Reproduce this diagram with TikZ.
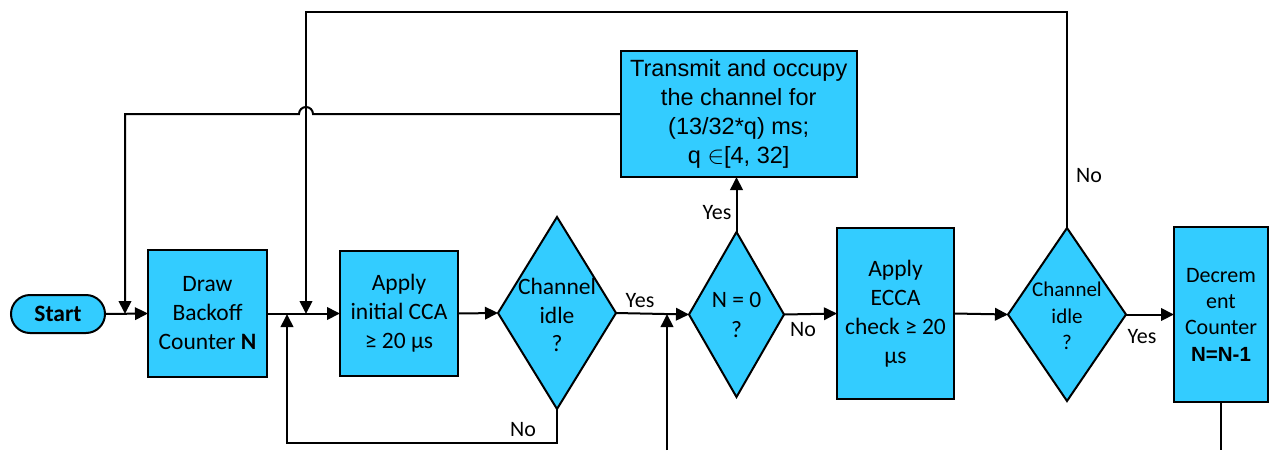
\documentclass[tikz,border=0pt]{standalone}
\usepackage{fontspec}
\setmainfont{Carlito}
\newfontfamily\arialf{Liberation Sans}
\usetikzlibrary{shapes.geometric,arrows.meta}
\definecolor{boxc}{HTML}{33CCFF}
\begin{document}
\begin{tikzpicture}[x=1pt,y=-1pt,
  line width=2pt,
  arr/.style={-{Triangle[length=13pt,width=12.5pt]}},
  blk/.style={draw, fill=boxc, inner sep=0pt, outer sep=0pt, align=center, font=\fontsize{23.5}{29}\selectfont},
  dia/.style={draw, fill=boxc, diamond, inner sep=0pt, outer sep=0pt},
  txt/.style={align=center, inner sep=0pt, font=\fontsize{23.5}{28.5}\selectfont},
  lbl/.style={inner sep=0pt, font=\fontsize{22}{24}\selectfont}]
\useasboundingbox (0,0) rectangle (1269,450);

% nodes
\node[blk, rounded corners=19pt, minimum width=94pt, minimum height=38pt, font=\bfseries\fontsize{23.5}{28}\selectfont] (start) at (58,314) {Start};
\node[blk, minimum width=119pt, minimum height=127pt] (draw) at (207.5,313.5) {Draw\\Backoff\\Counter \textbf{N}};
\node[blk, minimum width=118pt, minimum height=125pt] (cca) at (399,313.5) {Apply\\initial CCA\\≥ 20 µs};
\node[dia, minimum width=118pt, minimum height=192pt] (d1) at (557,313) {};
\node[txt] (d1t) at (557,315) {Channel\\idle\\?};
\node[dia, minimum width=95pt, minimum height=165pt] (n0) at (736.5,314.5) {};
\node[txt, font=\fontsize{23.5}{30}\selectfont] (n0t) at (736.5,315) {N = 0\\?};
\node[blk, minimum width=236pt, minimum height=126pt, font=\arialf\fontsize{23.5}{29}\selectfont] (tx) at (738.7,114) {Transmit and occupy\\the channel for\\(13/32*q) ms;\\q $\in$[4, 32]};
\node[blk, minimum width=117pt, minimum height=171pt] (ecca) at (895.5,313.5) {Apply\\ECCA\\check ≥ 20\\µs};
\node[dia, minimum width=118pt, minimum height=173pt] (d2) at (1067,314.5) {};
\node[txt, font=\fontsize{21}{26.5}\selectfont] (d2t) at (1067,316) {Channel\\idle\\?};
\node[blk, minimum width=94pt, minimum height=175pt, font=\fontsize{22}{26.3}\selectfont] (dec) at (1221,314.5) {Decrem\\ent\\Counter\\{\arialf\bfseries\fontsize{20.5}{26.3}\selectfont N=N-1}};

% labels
\node[lbl] (y1) at (640,301) {Yes};
\node[lbl] (y2) at (717,213) {Yes};
\node[lbl] (no1) at (803,330) {No};
\node[lbl] (y3) at (1142,337) {Yes};
\node[lbl] (no2) at (1089,176) {No};
\node[lbl] (no3) at (523,430) {No};

% junction coordinates
\coordinate (j0) at (125,314);
\coordinate (j1) at (306,314);
\coordinate (j2) at (287,314);
\coordinate (j3) at (667,314);
\coordinate (b2) at (287,443);
\coordinate (b3) at (667,450);
\coordinate (b4) at (1221,450);
\coordinate (t1) at (306,12);
\coordinate (h1) at (313,114);
\coordinate (l0) at (125,114);

% connectors
\draw[arr] (start.east) -- (draw.west);
\draw[arr] (draw.east) -- (cca.west);
\draw[arr] (cca.east) -- (d1.west);
\draw[arr] (d1.east) -- (n0.west);
\draw[arr] (n0.north) -- (n0.north |- tx.south);
\draw[arr] (n0.east) -- (ecca.west);
\draw[arr] (ecca.east) -- (d2.west);
\draw[arr] (d2.east) -- (dec.west);
\draw (dec.south) -- (b4);
\draw[arr] (d1.south) -- (d1.south |- b2) -- (b2) -- (j2);
\draw[arr] (b3) -- (j3);
\draw[arr] (d2.north) -- (d2.north |- t1) -- (t1) -- (j1);
\draw[arr] (tx.west) -- (h1) arc[start angle=0, end angle=180, radius=7pt] -- (l0) -- (j0);
\end{tikzpicture}
\end{document}
